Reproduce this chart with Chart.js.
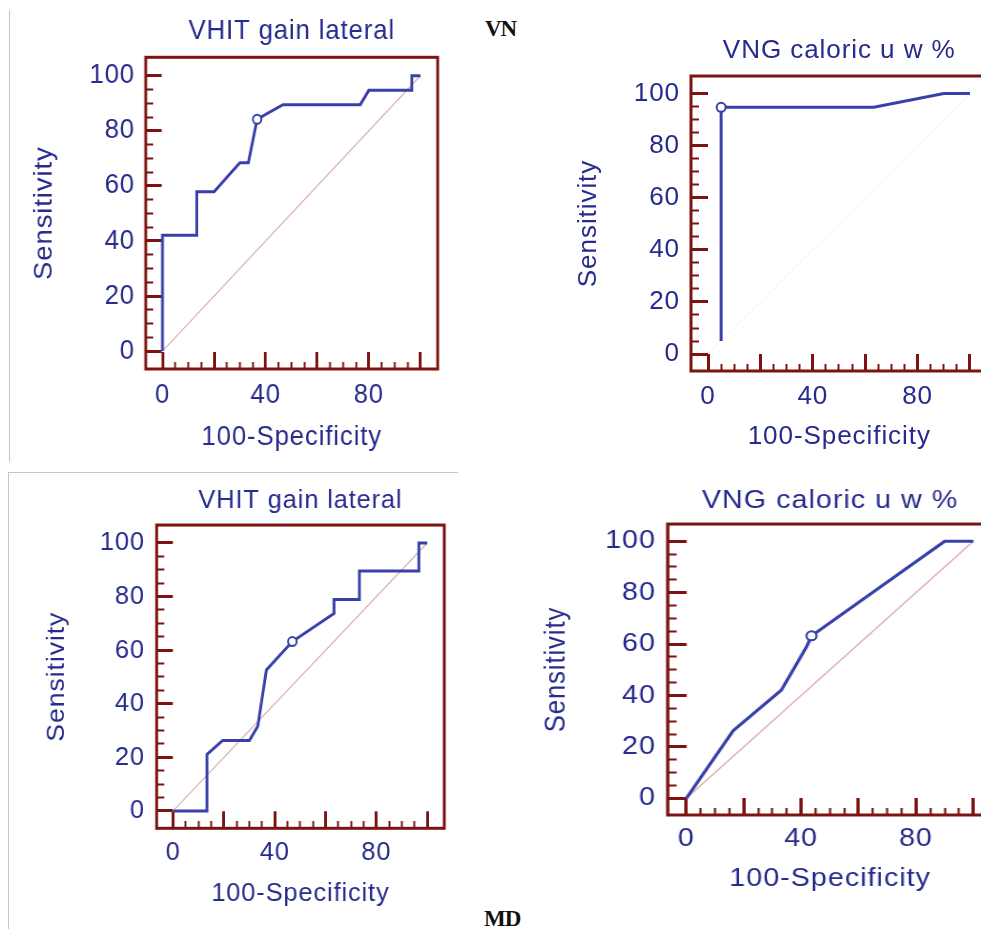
<!DOCTYPE html>
<html lang="en">
<head>
<meta charset="UTF-8">
<title>ROC curves VN / MD</title>
<script src="https://cdn.jsdelivr.net/npm/chart.js@4.4.1/dist/chart.umd.min.js"></script>
<style>
  html, body { margin: 0; padding: 0; background: #fff; overflow: hidden; width: 981px; height: 929px; }
  body { position: relative; }
  canvas { position: absolute; }
  .rule { position: absolute; background: #c6c6c6; }
  .tag { position: absolute; font: bold 23px "Liberation Serif", "Times New Roman", serif; line-height: 22px; color: #111; letter-spacing: -1px; }
</style>
</head>
<body>
<div class="rule" style="left:9px;top:10px;width:1px;height:452px"></div>
<div class="rule" style="left:8px;top:472px;width:450px;height:1px"></div>
<div class="rule" style="left:8px;top:472px;width:1px;height:457px"></div>
<div class="tag" style="left:485px;top:18px">VN</div>
<div class="tag" style="left:484px;top:908px">MD</div>

<canvas id="vnVhit" width="490" height="460" style="left:0;top:0;width:460px;height:460px"></canvas>
<canvas id="vnVng" width="490" height="460" style="left:520px;top:0;width:490px;height:460px"></canvas>
<canvas id="mdVhit" width="493" height="469" style="left:0;top:460px;width:470px;height:469px"></canvas>
<canvas id="mdVng" width="443" height="469" style="left:520px;top:460px;width:495px;height:469px"></canvas>

<script>
// axis ticks (every 5, major every 20) and the labelled values
const tickMarks = [0, 5, 10, 15, 20, 25, 30, 35, 40, 45, 50, 55, 60, 65, 70, 75, 80, 85, 90, 95, 100];
const yTickLabels = [0, 20, 40, 60, 80, 100];
const xTickLabels = [0, 40, 80];
const chanceLine = [0, 100];

// VN - VHIT gain lateral
const vnVhitFpr  = [0, 0, 13.3, 13.3, 20, 30, 33.3, 36.7, 46.7, 76.7, 80, 96.7, 96.7, 100];
const vnVhitSens = [0, 42.1, 42.1, 57.9, 57.9, 68.4, 68.4, 84.2, 89.5, 89.5, 94.7, 94.7, 100, 100];
const vnVhitCut  = [36.7, 84.2];

// VN - VNG caloric u w %
const vnVngFpr  = [5, 5, 63.3, 90, 100];
const vnVngSens = [5, 94.7, 94.7, 100, 100];
const vnVngCut  = [5, 94.7];

// MD - VHIT gain lateral
const mdVhitFpr  = [0, 13.3, 13.3, 19.5, 30, 33.3, 36.7, 46.9, 63.3, 63.3, 73.3, 73.3, 96.7, 96.7, 100];
const mdVhitSens = [0, 0, 21.1, 26.3, 26.3, 31.6, 52.6, 63.2, 73.7, 78.9, 78.9, 89.5, 89.5, 100, 100];
const mdVhitCut  = [46.9, 63.2];

// MD - VNG caloric u w %
const mdVngFpr  = [0, 16.3, 33.1, 41.9, 43.6, 90, 100];
const mdVngSens = [0, 26.3, 42.1, 59, 63.2, 100, 100];
const mdVngCut  = [43.6, 63.2];

const FAMILY = "'Liberation Sans', Arial, sans-serif";
const NAVY = '#262b8c';
const BLUE = '#3840aa';
const MAROON = '#7d1212';
const PINK = '#dfaeae';

// draws the closed box around the plot area
const frame = {
  id: 'frame',
  beforeLayout(chart) { chart.ctx.letterSpacing = '0.9px'; },
  beforeDraw(chart) { chart.ctx.letterSpacing = '0.9px'; },
  afterDatasetsDraw(chart) {
    const { ctx, chartArea: a } = chart;
    ctx.save();
    ctx.strokeStyle = MAROON;
    ctx.lineWidth = 3;
    ctx.strokeRect(a.left, a.top, a.right - a.left, a.bottom - a.top);
    ctx.restore();
  }
};

function isMajor(c) {
  return c.tick && c.tick.value % 20 === 0;
}

function axis(dir, labels, b) {
  const isX = dir === 'x';
  const font = { family: FAMILY, size: b.font };
  return {
    type: 'linear',
    min: -6.5,
    max: 106.7,
    afterBuildTicks: a => { a.ticks = tickMarks.map(v => ({ value: v })); },
    afterFit: a => { if (isX) a.height = b.xHeight; else a.width = b.yWidth; },
    border: { display: false },
    grid: {
      drawOnChartArea: false,
      tickLength: -17,
      tickColor: MAROON,
      tickWidth: c => isMajor(c) ? 3 : 2,
      tickBorderDash: c => isMajor(c) ? [] : (isX ? [7, 40] : [0, 9, 8, 40])
    },
    ticks: {
      autoSkip: false,
      maxRotation: 0,
      color: NAVY,
      font: font,
      padding: isX ? b.xTickPad : b.yTickPad,
      callback: v => labels.includes(v) ? String(v) : ''
    },
    title: {
      display: true,
      text: isX ? '100-Specificity' : 'Sensitivity',
      color: NAVY,
      font: font,
      padding: isX ? { top: 0, bottom: b.xTitlePad } : { top: b.yTitlePad, bottom: 0 }
    }
  };
}

function makeChart(id, title, fpr, sens, cut, b) {
  new Chart(document.getElementById(id), {
    type: 'scatter',
    data: {
      datasets: [
        {
          data: [{ x: cut[0], y: cut[1] }],
          pointRadius: 4.5,
          pointBackgroundColor: '#fff',
          pointBorderColor: BLUE,
          pointBorderWidth: 2
        },
        {
          data: fpr.map((x, i) => ({ x: x, y: sens[i] })),
          showLine: true,
          borderColor: BLUE,
          borderWidth: 3,
          pointRadius: 0
        },
        {
          data: chanceLine.map(v => ({ x: v, y: v })),
          showLine: true,
          borderColor: b.chance || PINK,
          borderWidth: 1.3,
          pointRadius: 0
        }
      ]
    },
    options: {
      responsive: false,
      animation: false,
      events: [],
      layout: { padding: { left: 0, top: 0, bottom: 0, right: b.padRight } },
      plugins: {
        legend: { display: false },
        tooltip: { enabled: false },
        title: {
          display: true,
          text: title,
          fullSize: false,
          color: NAVY,
          font: { family: FAMILY, size: b.font, weight: 'normal' },
          padding: { top: b.titleTop, bottom: b.titleBottom }
        }
      },
      scales: {
        x: axis('x', xTickLabels, b),
        y: axis('y', yTickLabels, b)
      }
    },
    plugins: [frame]
  });
}

makeChart('vnVhit', 'VHIT gain lateral', vnVhitFpr, vnVhitSens, vnVhitCut, {
  font: 27.5, yWidth: 155.2, padRight: 23.8, titleTop: 15.2, titleBottom: 9.1,
  xHeight: 91, xTitlePad: 6, xTickPad: 26.8, yTitlePad: 31.1, yTickPad: 28.4
});
makeChart('vnVng', 'VNG caloric u w %', vnVngFpr, vnVngSens, vnVngCut, {
  font: 26.1, yWidth: 171, padRight: 22.5, titleTop: 35.5, titleBottom: 9.2,
  xHeight: 89, xTitlePad: 7.3, xTickPad: 27, yTitlePad: 53.6, yTickPad: 28,
  chance: 'rgba(223, 174, 174, 0.12)'
});
makeChart('mdVhit', 'VHIT gain lateral', mdVhitFpr, mdVhitSens, mdVhitCut, {
  font: 26.7, yWidth: 164.3, padRight: 27, titleTop: 24.8, titleBottom: 8.2,
  xHeight: 100.7, xTitlePad: 19, xTickPad: 25.2, yTitlePad: 43.8, yTickPad: 29.3
});
makeChart('mdVng', 'VNG caloric u w %', mdVngFpr, mdVngSens, mdVngCut, {
  font: 25.7, yWidth: 132.2, padRight: 20.1, titleTop: 25.4, titleBottom: 7.8,
  xHeight: 114, xTitlePad: 34.9, xTickPad: 25.3, yTitlePad: 17.4, yTickPad: 27.5
});
</script>
</body>
</html>
